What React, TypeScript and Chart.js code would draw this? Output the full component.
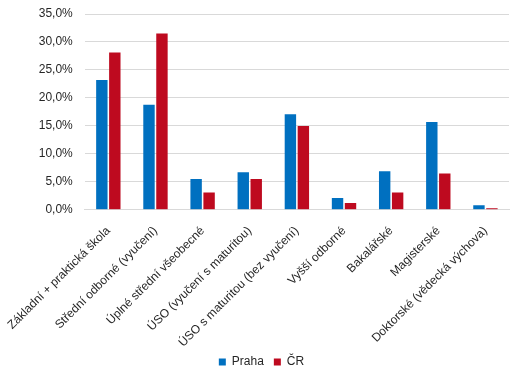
import React, { useEffect, useRef } from "react";
import { Chart, registerables } from "chart.js";

Chart.register(...registerables);

const categories = [
  "Základní + praktická škola",
  "Střední odborné (vyučení)",
  "Úplné střední všeobecné",
  "ÚSO (vyučení s maturitou)",
  "ÚSO s maturitou (bez vyučení)",
  "Vyšší odborné",
  "Bakalářské",
  "Magisterské",
  "Doktorské (vědecká výchova)",
];
const praha = [23.2, 18.8, 5.5, 6.7, 17.1, 2.1, 6.9, 15.7, 0.8];
const cr = [28.1, 31.5, 3.1, 5.5, 15.0, 1.2, 3.1, 6.5, 0.3];

export default function App() {
  const ref = useRef<HTMLCanvasElement>(null);
  useEffect(() => {
    const chart = new Chart(ref.current!, {
      type: "bar",
      data: {
        labels: categories,
        datasets: [
          { label: "Praha", data: praha, backgroundColor: "#0070C0", categoryPercentage: 0.55, barPercentage: 0.88 },
          { label: "ČR", data: cr, backgroundColor: "#BE0A1F", categoryPercentage: 0.55, barPercentage: 0.88 },
        ],
      },
      options: {
        animation: false,
        responsive: false,
        layout: { padding: { top: 14, right: 14, left: 14, bottom: 2 } },
        plugins: {
          tooltip: { enabled: false },
          legend: {
            position: "bottom",
            labels: {
              boxWidth: 7,
              boxHeight: 7,
              padding: 10,
              color: "#262626",
              font: { family: "Liberation Sans, Arial, sans-serif", size: 12 },
            },
          },
        },
        scales: {
          x: {
            grid: { display: false },
            border: { display: true, color: "#d9d9d9" },
            afterFit: (scale: any) => {
              scale.height = scale.height - 10;
            },
            ticks: {
              maxRotation: 45,
              minRotation: 45,
              autoSkip: false,
              padding: 6,
              color: "#262626",
              font: { family: "Liberation Sans, Arial, sans-serif", size: 12 },
            },
          },
          y: {
            min: 0,
            max: 35,
            border: { display: false },
            grid: { color: "#d9d9d9", drawTicks: false },
            afterFit: (scale: any) => {
              scale.paddingTop = 0;
            },
            ticks: {
              stepSize: 5,
              padding: 12,
              color: "#262626",
              font: { family: "Liberation Sans, Arial, sans-serif", size: 12 },
              callback: (v: any) => Number(v).toFixed(1).replace(".", ",") + "%",
            },
          },
        },
      },
    });
    return () => chart.destroy();
  }, []);
  return (
    <div style={{ position: "fixed", left: 0, top: 0, width: 523, height: 380, background: "#fff" }}>
      <canvas ref={ref} width={523} height={380} />
    </div>
  );
}
